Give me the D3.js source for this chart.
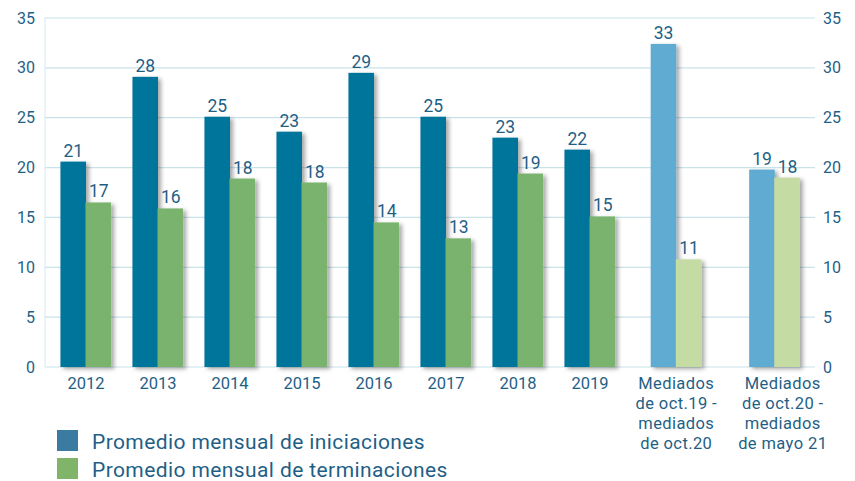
<!DOCTYPE html>
<html><head><meta charset="utf-8">
<script src="https://cdn.jsdelivr.net/npm/d3@7"></script>
<style>body{margin:0;background:#fff}svg{display:block}text{font-family:Roboto,"Open Sans",sans-serif;fill:#1f5f86}</style>
</head><body><svg id="c" width="855" height="481"></svg>
<script>
const yearCats = ["2012","2013","2014","2015","2016","2017","2018","2019"];
const periodCats = [["Mediados","de oct.19 -","mediados","de oct.20"],["Mediados","de oct.20 -","mediados","de mayo 21"]];
const iniciaciones = [20.6, 29.1, 25.1, 23.6, 29.5, 25.1, 23.0, 21.8, 32.4, 19.8];
const terminaciones = [16.5, 15.9, 18.9, 18.5, 14.5, 12.9, 19.4, 15.1, 10.8, 19.0];
const iniLabels = ["21","28","25","23","29","25","23","22","33","19"];
const terLabels = ["17","16","18","18","14","13","19","15","11","18"];
const yTicks = [0,5,10,15,20,25,30,35];
const legendLabels = ["Promedio mensual de iniciaciones","Promedio mensual de terminaciones"];

(function(){
const svg = d3.select("#c");
const pL = 45, pR = 815, pT = 18, pB = 367;
const y = d3.scaleLinear().domain([0,35]).range([pB, pT]);
const periodKeys = periodCats.map((p,i)=>"p"+i);
const xYears = d3.scaleBand().domain(yearCats).range([50, 626]);
const xPer = d3.scaleBand().domain(periodKeys).range([627, 824]);
const barW = xYears.step()*0.355;
const cats = yearCats.concat(periodKeys);
const center = c => xYears.domain().includes(c) ? xYears(c)+xYears.bandwidth()/2 : xPer(c)+xPer.bandwidth()/2;

const defs = svg.append("defs");
const f = defs.append("filter").attr("id","sh").attr("x","-20%").attr("y","-5%").attr("width","160%").attr("height","115%");
f.append("feDropShadow").attr("dx",3).attr("dy",2).attr("stdDeviation",2).attr("flood-color","#000").attr("flood-opacity",0.35);

svg.append("g").selectAll("line").data(yTicks).join("line")
  .attr("x1",pL).attr("x2",pR).attr("y1",d=>y(d)).attr("y2",d=>y(d))
  .attr("stroke","#c9e3ea").attr("stroke-width",1.2);
svg.append("line").attr("x1",pL).attr("x2",pL).attr("y1",y(35)).attr("y2",y(0)).attr("stroke","#d6eaf0").attr("stroke-width",1);

const yl = d3.axisLeft(y).tickValues(yTicks).tickSize(0).tickPadding(10);
const gl = svg.append("g").attr("transform",`translate(${pL},0)`).call(yl);
const yr = d3.axisRight(y).tickValues(yTicks).tickSize(0).tickPadding(8);
const gr = svg.append("g").attr("transform",`translate(${pR},0)`).call(yr);
[gl,gr].forEach(g=>{g.select(".domain").remove();g.attr("font-family",null);g.selectAll("text").style("font-size","16px").attr("fill","#1f5f86");});

const colI = (i)=> i<8 ? "#00749b" : "#5eabd1";
const colT = (i)=> i<8 ? "#79b36d" : "#c4dca3";
const gb = svg.append("g");
cats.forEach((c,i)=>{
  const cx = center(c);
  gb.append("rect").attr("x",cx-barW).attr("width",barW).attr("y",y(iniciaciones[i])).attr("height",y(0)-y(iniciaciones[i])).attr("fill",colI(i)).attr("filter","url(#sh)");
  gb.append("rect").attr("x",cx-0.5).attr("width",barW).attr("y",y(terminaciones[i])).attr("height",y(0)-y(terminaciones[i])).attr("fill",colT(i)).attr("filter","url(#sh)");
});
cats.forEach((c,i)=>{
  const cx = center(c);
  gb.append("text").attr("x",cx-barW/2).attr("y",y(iniciaciones[i])-5).attr("text-anchor","middle").style("font-size","17.5px").text(iniLabels[i]);
  gb.append("text").attr("x",cx+barW/2).attr("y",y(terminaciones[i])-5).attr("text-anchor","middle").style("font-size","17.5px").text(terLabels[i]);
});

yearCats.forEach(c=>{
  svg.append("text").attr("x",center(c)).attr("y",389).attr("text-anchor","middle").style("font-size","16.5px").text(c);
});
periodCats.forEach((lines,i)=>{
  const cx = center(periodKeys[i]) + (i==1?8:0);
  const t = svg.append("text").attr("x",cx).attr("y",389).attr("text-anchor","middle").style("font-size","16.5px").style("letter-spacing","0.4px");
  lines.forEach((l,j)=>t.append("tspan").attr("x",cx).attr("y",389+j*20).text(l));
});

const legCols = ["#3b7ba1","#80b468"];
legendLabels.forEach((l,i)=>{
  svg.append("rect").attr("x",57).attr("y",430+i*28).attr("width",21).attr("height",21).attr("fill",legCols[i]);
  svg.append("text").attr("x",92).attr("y",449+i*28).style("font-size","21px").style("letter-spacing","0.4px").text(l);
});
})();
</script></body></html>
